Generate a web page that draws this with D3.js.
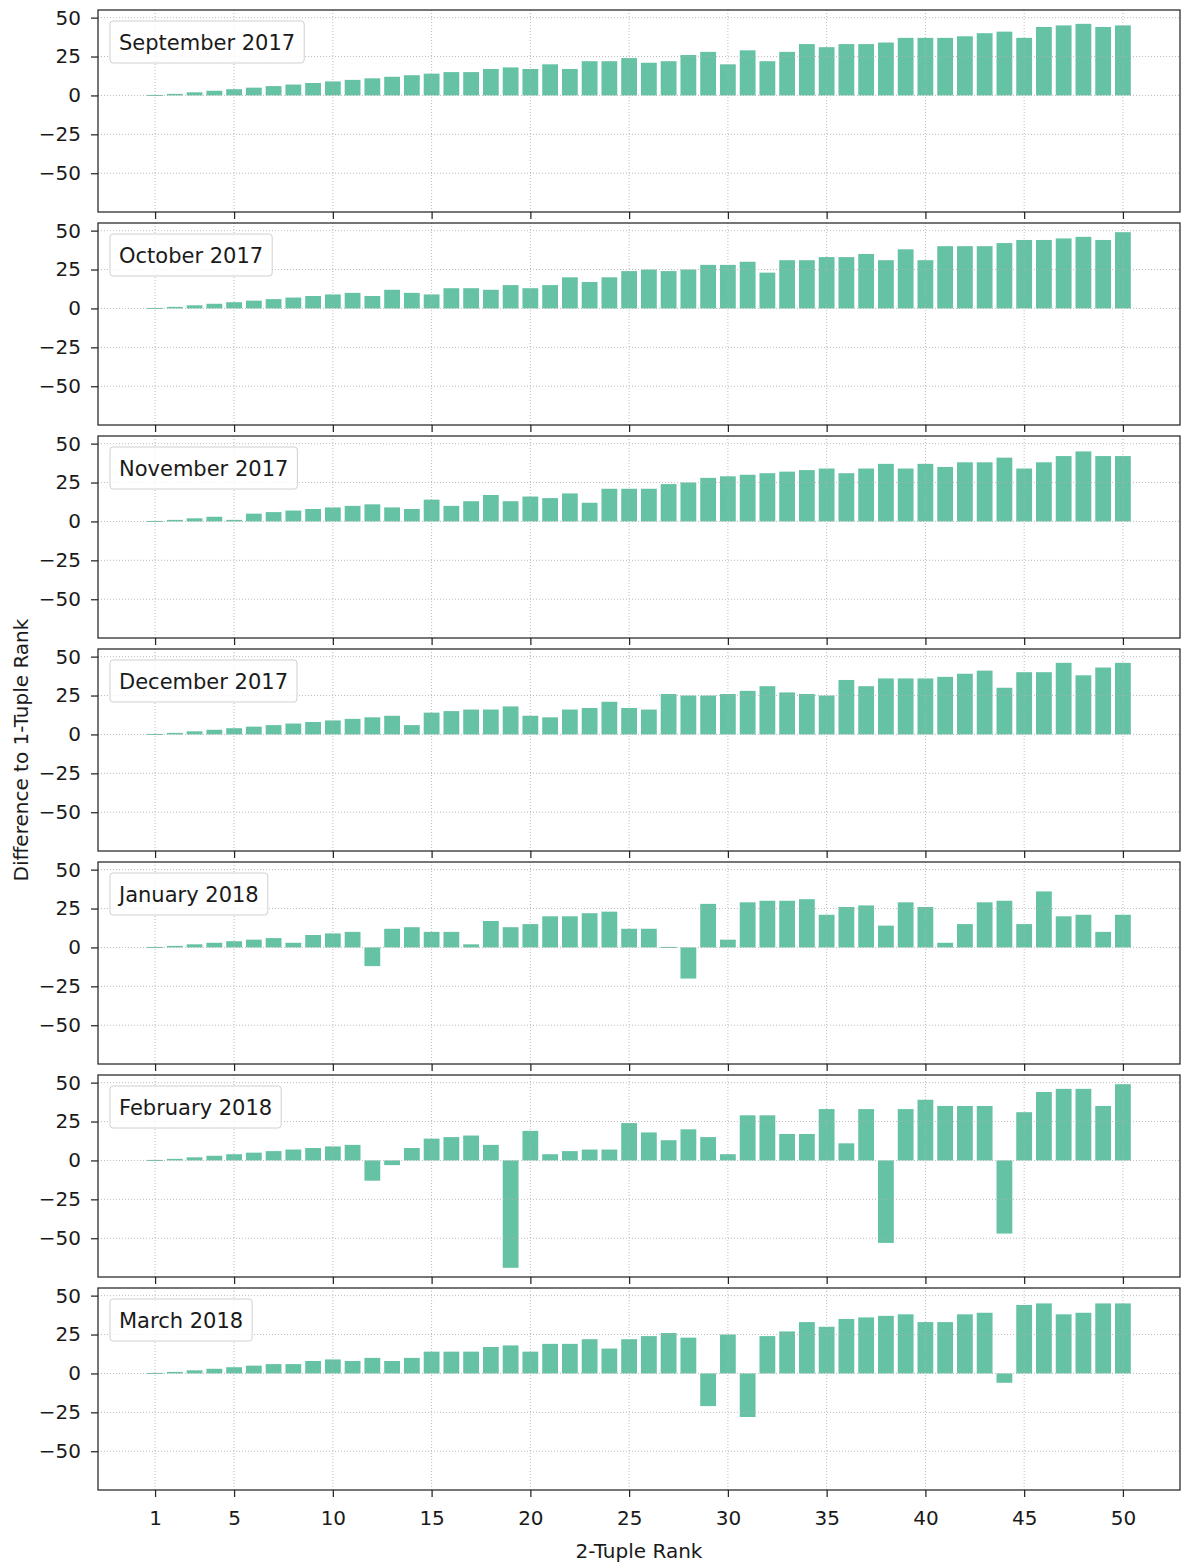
<!DOCTYPE html>
<html>
<head>
<meta charset="utf-8">
<script src="https://cdn.jsdelivr.net/npm/d3@7/dist/d3.min.js"></script>
<style>
  html, body { margin: 0; padding: 0; background: #fff; }
  svg { display: block; }
  text { font-family: "DejaVu Sans", sans-serif; fill: #1a1a1a; }
</style>
</head>
<body>
<svg id="chart" width="1181" height="1564"></svg>
<script>
// Monthly difference between 2-tuple rank and 1-tuple rank, top 50 2-tuples
const ranks = d3.range(1, 51);
const months = ["September 2017", "October 2017", "November 2017", "December 2017",
                "January 2018", "February 2018", "March 2018"];
const xTickValues = [1, 5, 10, 15, 20, 25, 30, 35, 40, 45, 50];
const yTickValues = [-50, -25, 0, 25, 50];

const sep2017 = [0,1,2,3,4,5,6,7,8,9,10,11,12,13,14,15,15,17,18,17,20,17,22,22,24,
                 21,22,26,28,20,29,22,28,33,31,33,33,34,37,37,37,38,40,41,37,44,45,46,44,45];
const oct2017 = [0,1,2,3,4,5,6,7,8,9,10,8,12,10,9,13,13,12,15,13,15,20,17,20,24,
                 25,24,25,28,28,30,23,31,31,33,33,35,31,38,31,40,40,40,42,44,44,45,46,44,49];
const nov2017 = [0,1,2,3,1,5,6,7,8,9,10,11,9,8,14,10,13,17,13,16,15,18,12,21,21,
                 21,24,25,28,29,30,31,32,33,34,31,34,37,34,37,35,38,38,41,34,38,42,45,42,42];
const dec2017 = [0,1,2,3,4,5,6,7,8,9,10,11,12,6,14,15,16,16,18,12,11,16,17,21,17,
                 16,26,25,25,26,28,31,27,26,25,35,31,36,36,36,37,39,41,30,40,40,46,38,43,46];
const jan2018 = [0,1,2,3,4,5,6,3,8,9,10,-12,12,13,10,10,2,17,13,15,20,20,22,23,12,
                 12,0,-20,28,5,29,30,30,31,21,26,27,14,29,26,3,15,29,30,15,36,20,21,10,21];
const feb2018 = [0,1,2,3,4,5,6,7,8,9,10,-13,-3,8,14,15,16,10,-69,19,4,6,7,7,24,
                 18,13,20,15,4,29,29,17,17,33,11,33,-53,33,39,35,35,35,-47,31,44,46,46,35,49];
const mar2018 = [0,1,2,3,4,5,6,6,8,9,8,10,8,10,14,14,14,17,18,14,19,19,22,16,22,
                 24,26,23,-21,25,-28,24,27,33,30,35,36,37,38,33,33,38,39,-6,44,45,38,39,45,45];

const series = [sep2017, oct2017, nov2017, dec2017, jan2018, feb2018, mar2018];

// Layout
const left = 98, right = 1180;
const firstTop = 10, pitch = 213, panelH = 202;
const barColor = "#66c2a5";

const svg = d3.select("#chart");

// Shared x scale with 5% padding around the bars (bar width 0.8)
const barW = 0.8;
const xMin = 1 - barW / 2, xMax = 50 + barW / 2;
const xPad = (xMax - xMin) * 0.05;
const x = d3.scaleLinear().domain([xMin - xPad, xMax + xPad]).range([left, right]);

// Shared y domain across all panels, 5% padding
const allVals = series.flat();
const yLo = Math.min(0, d3.min(allVals)), yHi = Math.max(0, d3.max(allVals));
const yPad = (yHi - yLo) * 0.05;
const yDomain = [yLo - yPad, yHi + yPad];

const fmtTick = d => d < 0 ? "\u2212" + Math.abs(d) : String(d);

series.forEach((vals, i) => {
  const top = firstTop + i * pitch;
  const y = d3.scaleLinear().domain(yDomain).range([top + panelH, top]);
  const g = svg.append("g");

  // bars
  const bw = x(barW) - x(0);
  g.selectAll("rect.bar")
    .data(ranks.map((r, k) => ({ r, v: vals[k] })))
    .join("rect")
    .attr("class", "bar")
    .attr("x", d => x(d.r) - bw / 2)
    .attr("width", bw)
    .attr("y", d => Math.min(y(d.v), y(0)) - (d.v === 0 ? 0.5 : 0))
    .attr("height", d => Math.max(1, Math.abs(y(d.v) - y(0))))
    .attr("fill", barColor);

  // dotted grid, drawn over the bars
  const grid = g.append("g").attr("stroke", "#b0b0b0").attr("stroke-width", 1)
    .attr("stroke-dasharray", "1,2").attr("opacity", 0.85);
  grid.selectAll("line.gx").data(xTickValues).join("line")
    .attr("x1", d => x(d)).attr("x2", d => x(d))
    .attr("y1", top).attr("y2", top + panelH);
  grid.selectAll("line.gy").data(yTickValues).join("line")
    .attr("x1", left).attr("x2", right)
    .attr("y1", d => y(d)).attr("y2", d => y(d));

  // axes
  const yAxis = d3.axisLeft(y).tickValues(yTickValues).tickFormat(fmtTick)
    .tickSizeOuter(0).tickSizeInner(7).tickPadding(10);
  const ya = g.append("g").attr("transform", `translate(${left},0)`).call(yAxis);
  ya.select(".domain").remove();
  ya.selectAll("line").attr("stroke", "#262626").attr("stroke-width", 1.25);
  ya.selectAll("text").attr("font-size", 20).attr("fill", "#1a1a1a")
    .style("font-family", "DejaVu Sans");

  const last = i === series.length - 1;
  const xAxis = d3.axisBottom(x).tickValues(xTickValues)
    .tickFormat(last ? d3.format("d") : () => "")
    .tickSizeOuter(0).tickSizeInner(7).tickPadding(14);
  const xa = g.append("g").attr("transform", `translate(0,${top + panelH})`).call(xAxis);
  xa.select(".domain").remove();
  xa.selectAll("line").attr("stroke", "#262626").attr("stroke-width", 1.25);
  xa.selectAll("text").attr("font-size", 20).attr("fill", "#1a1a1a")
    .style("font-family", "DejaVu Sans");

  // frame
  g.append("rect")
    .attr("x", left).attr("y", top).attr("width", right - left).attr("height", panelH)
    .attr("fill", "none").attr("stroke", "#262626").attr("stroke-width", 1.25);

  // legend box with the month name
  const lg = g.append("g");
  const box = lg.append("rect")
    .attr("x", left + 12).attr("y", top + 11).attr("height", 42).attr("rx", 3)
    .attr("fill", "#ffffff").attr("fill-opacity", 0.8)
    .attr("stroke", "#d0d0d0").attr("stroke-width", 1);
  const t = lg.append("text")
    .attr("x", left + 21).attr("y", top + 40)
    .attr("font-size", 21)
    .text(months[i]);
  const tw = t.node().getComputedTextLength();
  box.attr("width", tw + 18);
});

// axis titles
svg.append("text")
  .attr("x", (left + right) / 2).attr("y", 1558)
  .attr("text-anchor", "middle").attr("font-size", 20)
  .text("2-Tuple Rank");

const midY = (firstTop + firstTop + 6 * pitch + panelH) / 2;
svg.append("text")
  .attr("transform", `translate(28,${midY}) rotate(-90)`)
  .attr("text-anchor", "middle").attr("font-size", 20)
  .text("Difference to 1-Tuple Rank");
</script>
</body>
</html>
